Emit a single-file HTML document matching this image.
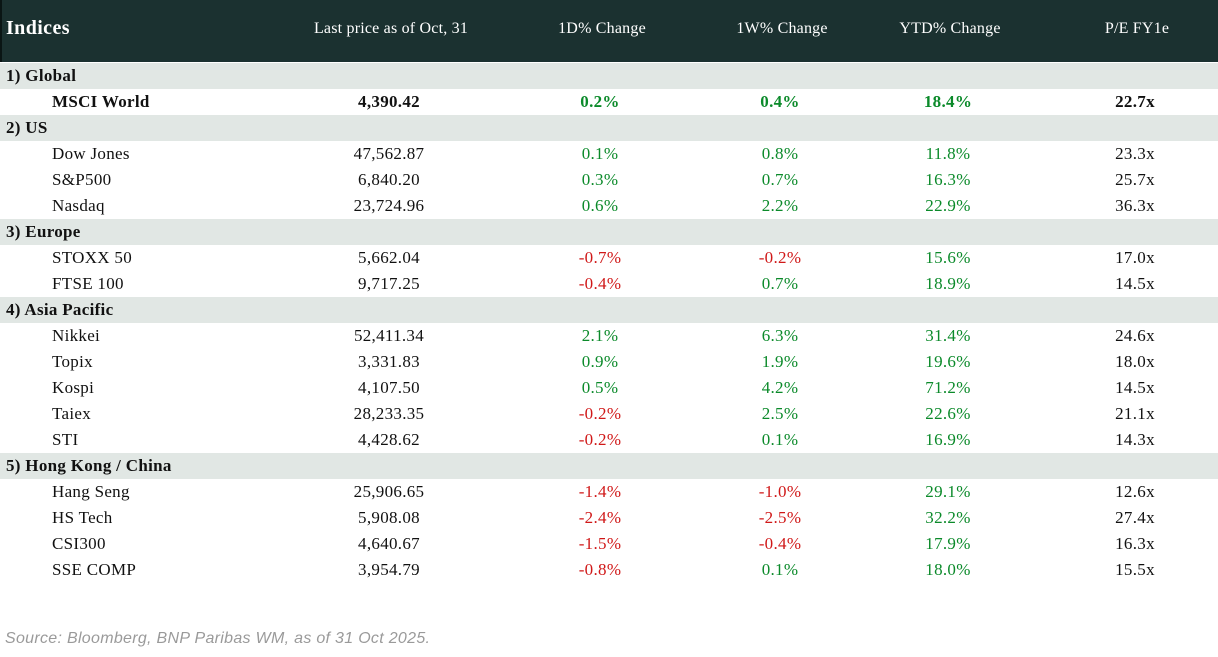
<!DOCTYPE html>
<html><head><meta charset="utf-8"><style>
*{margin:0;padding:0;box-sizing:border-box}
body{width:1218px;height:657px;background:#fff;font-family:"Liberation Serif","DejaVu Serif",serif;position:relative;overflow:hidden;color:#111}
.hdr{position:absolute;left:0;top:0;width:1218px;height:62px;background:#1b3130;color:#fff;border-left:2px solid #0a1514}
.hdr div{position:absolute;top:20px;font-size:16px;letter-spacing:0.2px}
.row{position:absolute;left:0;width:1218px;height:26px;font-size:17px;line-height:26px;letter-spacing:0.3px}
.sec{background:#e1e7e4;font-weight:bold}
.row span{position:absolute;top:0;text-align:center;width:180px}
.n{left:52px;text-align:left!important;width:auto!important}
.c1{left:299px}.c2{left:510px}.c3{left:690px}.c4{left:858px}.c5{left:1045px}
.g{color:#0b8a2a}.r{color:#d01818}
.b{font-weight:bold}
.src{position:absolute;left:5px;top:630px;font-size:16px;font-style:italic;color:#9a9a9a;font-family:"Liberation Sans",sans-serif;letter-spacing:0.3px}
</style></head><body>
<div class="hdr">
<div style="left:4px;font-size:20px;font-weight:bold;top:17px;letter-spacing:0.4px">Indices</div>
<div style="left:299px;width:180px;text-align:center">Last price as of Oct, 31</div>
<div style="left:510px;width:180px;text-align:center">1D% Change</div>
<div style="left:690px;width:180px;text-align:center">1W% Change</div>
<div style="left:858px;width:180px;text-align:center">YTD% Change</div>
<div style="left:1045px;width:180px;text-align:center">P/E FY1e</div>
</div>
<div class="row sec" style="top:63px"><span style="left:6px;text-align:left;width:auto">1) Global</span></div>
<div class="row b" style="top:89px"><span class="n">MSCI World</span><span class="c1">4,390.42</span><span class="c2 g">0.2%</span><span class="c3 g">0.4%</span><span class="c4 g">18.4%</span><span class="c5">22.7x</span></div>
<div class="row sec" style="top:115px"><span style="left:6px;text-align:left;width:auto">2) US</span></div>
<div class="row" style="top:141px"><span class="n">Dow Jones</span><span class="c1">47,562.87</span><span class="c2 g">0.1%</span><span class="c3 g">0.8%</span><span class="c4 g">11.8%</span><span class="c5">23.3x</span></div>
<div class="row" style="top:167px"><span class="n">S&amp;P500</span><span class="c1">6,840.20</span><span class="c2 g">0.3%</span><span class="c3 g">0.7%</span><span class="c4 g">16.3%</span><span class="c5">25.7x</span></div>
<div class="row" style="top:193px"><span class="n">Nasdaq</span><span class="c1">23,724.96</span><span class="c2 g">0.6%</span><span class="c3 g">2.2%</span><span class="c4 g">22.9%</span><span class="c5">36.3x</span></div>
<div class="row sec" style="top:219px"><span style="left:6px;text-align:left;width:auto">3) Europe</span></div>
<div class="row" style="top:245px"><span class="n">STOXX 50</span><span class="c1">5,662.04</span><span class="c2 r">-0.7%</span><span class="c3 r">-0.2%</span><span class="c4 g">15.6%</span><span class="c5">17.0x</span></div>
<div class="row" style="top:271px"><span class="n">FTSE 100</span><span class="c1">9,717.25</span><span class="c2 r">-0.4%</span><span class="c3 g">0.7%</span><span class="c4 g">18.9%</span><span class="c5">14.5x</span></div>
<div class="row sec" style="top:297px"><span style="left:6px;text-align:left;width:auto">4) Asia Pacific</span></div>
<div class="row" style="top:323px"><span class="n">Nikkei</span><span class="c1">52,411.34</span><span class="c2 g">2.1%</span><span class="c3 g">6.3%</span><span class="c4 g">31.4%</span><span class="c5">24.6x</span></div>
<div class="row" style="top:349px"><span class="n">Topix</span><span class="c1">3,331.83</span><span class="c2 g">0.9%</span><span class="c3 g">1.9%</span><span class="c4 g">19.6%</span><span class="c5">18.0x</span></div>
<div class="row" style="top:375px"><span class="n">Kospi</span><span class="c1">4,107.50</span><span class="c2 g">0.5%</span><span class="c3 g">4.2%</span><span class="c4 g">71.2%</span><span class="c5">14.5x</span></div>
<div class="row" style="top:401px"><span class="n">Taiex</span><span class="c1">28,233.35</span><span class="c2 r">-0.2%</span><span class="c3 g">2.5%</span><span class="c4 g">22.6%</span><span class="c5">21.1x</span></div>
<div class="row" style="top:427px"><span class="n">STI</span><span class="c1">4,428.62</span><span class="c2 r">-0.2%</span><span class="c3 g">0.1%</span><span class="c4 g">16.9%</span><span class="c5">14.3x</span></div>
<div class="row sec" style="top:453px"><span style="left:6px;text-align:left;width:auto">5) Hong Kong / China</span></div>
<div class="row" style="top:479px"><span class="n">Hang Seng</span><span class="c1">25,906.65</span><span class="c2 r">-1.4%</span><span class="c3 r">-1.0%</span><span class="c4 g">29.1%</span><span class="c5">12.6x</span></div>
<div class="row" style="top:505px"><span class="n">HS Tech</span><span class="c1">5,908.08</span><span class="c2 r">-2.4%</span><span class="c3 r">-2.5%</span><span class="c4 g">32.2%</span><span class="c5">27.4x</span></div>
<div class="row" style="top:531px"><span class="n">CSI300</span><span class="c1">4,640.67</span><span class="c2 r">-1.5%</span><span class="c3 r">-0.4%</span><span class="c4 g">17.9%</span><span class="c5">16.3x</span></div>
<div class="row" style="top:557px"><span class="n">SSE COMP</span><span class="c1">3,954.79</span><span class="c2 r">-0.8%</span><span class="c3 g">0.1%</span><span class="c4 g">18.0%</span><span class="c5">15.5x</span></div>
<div class="src">Source: Bloomberg, BNP Paribas WM, as of 31 Oct 2025.</div>
</body></html>
